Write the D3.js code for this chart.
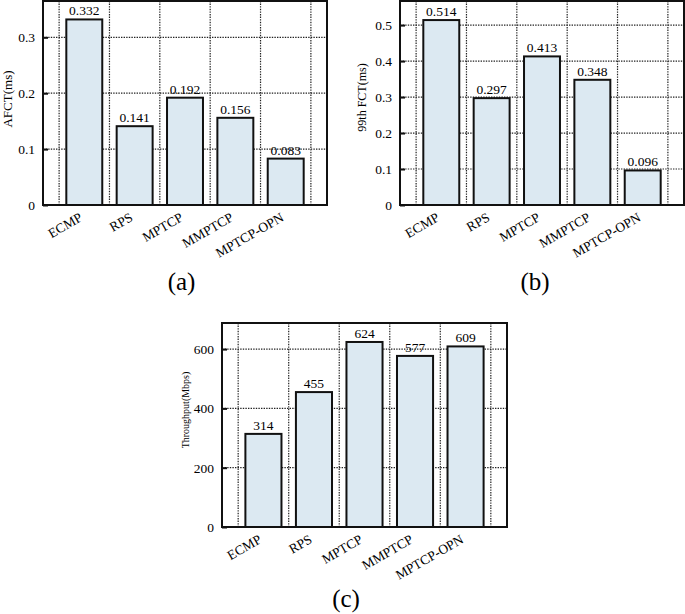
<!DOCTYPE html>
<html>
<head>
<meta charset="utf-8">
<script src="https://cdn.jsdelivr.net/npm/d3@7/dist/d3.min.js"></script>
<style>
  html, body { margin: 0; padding: 0; background: #fff; }
  svg { display: block; }
</style>
</head>
<body>
<svg id="chart" width="685" height="614"></svg>
<script>
// ---- data ----
const categories = ["ECMP", "RPS", "MPTCP", "MMPTCP", "MPTCP-OPN"];
const afctValues = [0.332, 0.141, 0.192, 0.156, 0.083];
const fct99Values = [0.514, 0.297, 0.413, 0.348, 0.096];
const throughputValues = [314, 455, 624, 577, 609];
const afctTicks = [0, 0.1, 0.2, 0.3];
const fct99Ticks = [0, 0.1, 0.2, 0.3, 0.4, 0.5];
const throughputTicks = [0, 200, 400, 600];
const afctMax = 0.365;
const fct99Max = 0.567;
const throughputMax = 688;

const svg = d3.select("#chart");
const FONT = "'Liberation Serif', 'Times New Roman', serif";

function drawPanel(opt) {
  const g = svg.append("g");
  const x = d3.scaleLinear().domain([-0.82, categories.length - 1 + 0.82]).range([opt.x0, opt.x1]);
  const y = d3.scaleLinear().domain([0, opt.max]).range([opt.y1, opt.y0]);
  const halfW = 0.357;

  // value labels (drawn beneath grid, as in reference)
  g.selectAll("text.val").data(opt.values).join("text")
    .attr("class", "val")
    .attr("x", (d, i) => x(i))
    .attr("y", d => y(d) - 4)
    .attr("text-anchor", "middle")
    .attr("font-family", FONT)
    .attr("font-size", 13.5)
    .attr("fill", "#000")
    .text(d => opt.fmt(d));

  // grid
  const grid = g.append("g")
    .attr("stroke", "#222")
    .attr("stroke-width", 1.2)
    .attr("stroke-dasharray", "1.4,1.2");
  grid.selectAll("line.h").data(opt.ticks.filter(t => t > 0)).join("line")
    .attr("x1", opt.x0).attr("x2", opt.x1)
    .attr("y1", d => y(d)).attr("y2", d => y(d));
  grid.selectAll("line.v").data(d3.range(categories.length + 1)).join("line")
    .attr("x1", d => x(d - 0.5)).attr("x2", d => x(d - 0.5))
    .attr("y1", opt.y0).attr("y2", opt.y1);

  // bars
  g.selectAll("rect.bar").data(opt.values).join("rect")
    .attr("class", "bar")
    .attr("x", (d, i) => x(i - halfW))
    .attr("width", (d, i) => x(i + halfW) - x(i - halfW))
    .attr("y", d => y(d))
    .attr("height", d => y(0) - y(d))
    .attr("fill", "#dce9f2")
    .attr("stroke", "#111")
    .attr("stroke-width", 2);

  // frame
  g.append("rect")
    .attr("x", opt.x0).attr("y", opt.y0)
    .attr("width", opt.x1 - opt.x0).attr("height", opt.y1 - opt.y0)
    .attr("fill", "none").attr("stroke", "#111").attr("stroke-width", 2);

  // y axis ticks (inward)
  const yAxis = d3.axisLeft(y).tickValues(opt.ticks).tickSize(-5).tickPadding(8)
    .tickFormat(d => String(d));
  const ax = g.append("g").attr("transform", `translate(${opt.x0},0)`).call(yAxis);
  ax.select(".domain").remove();
  ax.selectAll(".tick line").attr("stroke", "#111").attr("stroke-width", 2);
  ax.selectAll(".tick text")
    .attr("font-family", FONT).attr("font-size", 13.5).attr("fill", "#000");

  // category labels rotated
  g.selectAll("text.cat").data(categories).join("text")
    .attr("class", "cat")
    .attr("transform", (d, i) => `translate(${x(i) - 1},${opt.y1 + 15}) rotate(-30)`)
    .attr("text-anchor", "end")
    .attr("font-family", FONT)
    .attr("font-size", 13.5)
    .attr("fill", "#000")
    .text(d => d);

  // axis title
  g.append("text")
    .attr("transform", `translate(${opt.titleX},${opt.titleY}) rotate(-90)`)
    .attr("text-anchor", "middle")
    .attr("font-family", FONT)
    .attr("font-size", opt.titleSize)
    .attr("fill", "#000")
    .text(opt.title);

  // caption
  g.append("text")
    .attr("x", opt.capX).attr("y", opt.capY)
    .attr("text-anchor", "middle")
    .attr("font-family", FONT)
    .attr("font-size", 25)
    .attr("fill", "#000")
    .text(opt.caption);
}

drawPanel({
  values: afctValues, ticks: afctTicks, max: afctMax,
  x0: 43, x1: 327, y0: 1, y1: 205,
  fmt: d3.format(".3f"),
  title: "AFCT(ms)", titleX: 11.5, titleY: 99, titleSize: 13,
  caption: "(a)", capX: 181.5, capY: 290
});
drawPanel({
  values: fct99Values, ticks: fct99Ticks, max: fct99Max,
  x0: 400, x1: 684, y0: 1, y1: 205,
  fmt: d3.format(".3f"),
  title: "99th FCT(ms)", titleX: 366, titleY: 97.5, titleSize: 12,
  caption: "(b)", capX: 535, capY: 290
});
drawPanel({
  values: throughputValues, ticks: throughputTicks, max: throughputMax,
  x0: 222, x1: 507, y0: 323, y1: 527,
  fmt: d3.format("d"),
  title: "Throughput(Mbps)", titleX: 189, titleY: 410, titleSize: 10,
  caption: "(c)", capX: 346, capY: 607
});
</script>
</body>
</html>
